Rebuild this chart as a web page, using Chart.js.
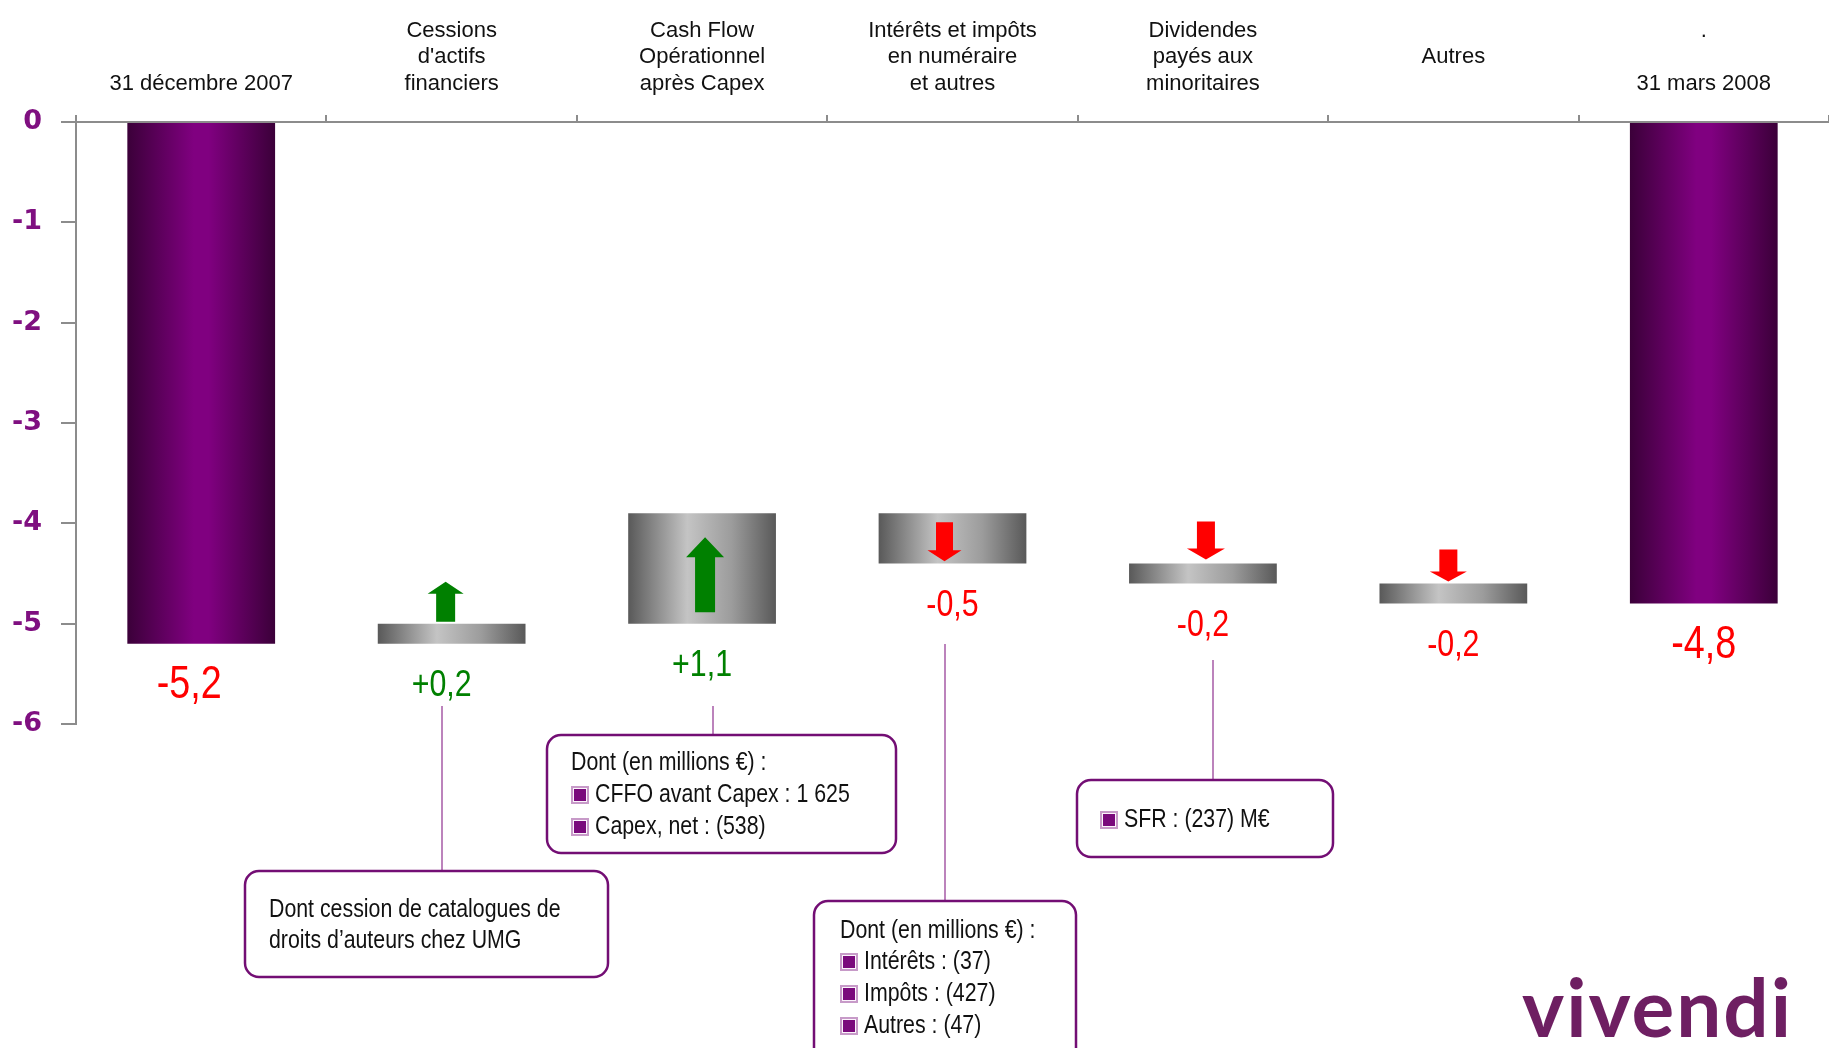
<!DOCTYPE html>
<html>
<head>
<meta charset="utf-8">
<script src="https://cdn.jsdelivr.net/npm/chart.js@4.4.0/dist/chart.umd.min.js"></script>
<style>
  html, body { margin: 0; padding: 0; background: #fff; }
  #wrap { width: 1829px; height: 1048px; }
</style>
</head>
<body>
<div id="wrap"><canvas id="chart" width="1829" height="1048"></canvas></div>
<script>
// categories (multi-line labels shown above the chart)
const categories = [
  ['31 décembre 2007'],
  ['Cessions', "d'actifs", 'financiers'],
  ['Cash Flow', 'Opérationnel', 'après Capex'],
  ['Intérêts et impôts', 'en numéraire', 'et autres'],
  ['Dividendes', 'payés aux', 'minoritaires'],
  ['Autres', ''],
  ['.', '', '31 mars 2008']
];
// floating bars: start / end of each step (Md€)
const barStart = [0, -5.2, -5.0, -3.9, -4.4, -4.6, 0];
const barEnd = [-5.2, -5.0, -3.9, -4.4, -4.6, -4.8, -4.8];
const barKind = ['total', 'up', 'up', 'down', 'down', 'down', 'total'];
const valueLabels = ['-5,2', '+0,2', '+1,1', '-0,5', '-0,2', '-0,2', '-4,8'];

// callout texts
const noteUMG = ['Dont cession de catalogues de', 'droits d\u2019auteurs chez UMG'];
const noteCFFOHead = 'Dont (en millions \u20ac) :';
const noteCFFOItems = ['CFFO avant Capex : 1 625', 'Capex, net : (538)'];
const noteIntHead = 'Dont (en millions \u20ac) :';
const noteIntItems = ['Intérêts : (37)', 'Impôts : (427)', 'Autres : (47)'];
const noteSFRItems = ['SFR : (237) M\u20ac'];
const logoText = 'vivendi';

const SANS = '"Liberation Sans", Arial, sans-serif';
const BAR_PCT = 0.59;

function barFill(ctx) {
  if (ctx.type !== 'data') return '#888';
  const chart = ctx.chart;
  const xs = chart.scales.x;
  if (!xs || !chart.chartArea) return '#888';
  const cx = xs.getPixelForValue(ctx.dataIndex);
  const w = xs.width / categories.length * BAR_PCT;
  const g = chart.ctx.createLinearGradient(cx - w / 2, 0, cx + w / 2, 0);
  if (barKind[ctx.dataIndex] === 'total') {
    g.addColorStop(0, '#3b0039');
    g.addColorStop(0.45, '#800080');
    g.addColorStop(0.55, '#800080');
    g.addColorStop(1, '#3b0039');
  } else {
    g.addColorStop(0, '#595959');
    g.addColorStop(0.4, '#c4c4c4');
    g.addColorStop(0.7, '#9c9c9c');
    g.addColorStop(1, '#595959');
  }
  return g;
}

// condensed text: Liberation Sans squeezed horizontally (Arial Narrow look)
function narrowText(c, text, x, y, size, color, align) {
  c.save();
  c.translate(x, y);
  c.scale(0.82, 1);
  c.font = size + 'px ' + SANS;
  c.fillStyle = color;
  c.textAlign = align || 'left';
  c.textBaseline = 'middle';
  c.fillText(text, 0, 0);
  c.restore();
}

function drawArrow(c, cx, yTail, yTip, shaftW, headW, headH, color) {
  const dir = yTip < yTail ? -1 : 1;
  const yBase = yTip - dir * headH;
  c.beginPath();
  c.moveTo(cx - shaftW / 2, yTail);
  c.lineTo(cx - shaftW / 2, yBase);
  c.lineTo(cx - headW / 2, yBase);
  c.lineTo(cx, yTip);
  c.lineTo(cx + headW / 2, yBase);
  c.lineTo(cx + shaftW / 2, yBase);
  c.lineTo(cx + shaftW / 2, yTail);
  c.closePath();
  c.fillStyle = color;
  c.fill();
}

function roundBox(c, x, y, w, h, r) {
  c.beginPath();
  c.moveTo(x + r, y);
  c.arcTo(x + w, y, x + w, y + h, r);
  c.arcTo(x + w, y + h, x, y + h, r);
  c.arcTo(x, y + h, x, y, r);
  c.arcTo(x, y, x + w, y, r);
  c.closePath();
  c.fillStyle = '#fff';
  c.fill();
  c.lineWidth = 2.5;
  c.strokeStyle = '#730e74';
  c.stroke();
}

function bullet(c, x, yMid) {
  c.fillStyle = '#c79ac8';
  c.fillRect(x, yMid - 9, 18, 18);
  c.fillStyle = '#fbf4fb';
  c.fillRect(x + 2, yMid - 7, 14, 14);
  c.fillStyle = '#7a0a7c';
  c.fillRect(x + 3, yMid - 6, 12, 12);
}

// arrows placed relative to the bar top (pixels)
const arrowSpec = {
  1: { dx: -6, tail: -2, tip: -42, shaft: 19, head: 36, headH: 12 },
  2: { dx: 3, tail: 99, tip: 24, shaft: 20, head: 38, headH: 20 },
  3: { dx: -8, tail: 9, tip: 48, shaft: 17, head: 34, headH: 11 },
  4: { dx: 3, tail: -42, tip: -4, shaft: 18, head: 38, headH: 11 },
  5: { dx: -5, tail: -34, tip: -2, shaft: 18, head: 37, headH: 10 }
};

const decor = {
  id: 'decor',
  afterDatasetsDraw(chart) {
    const c = chart.ctx;
    const meta = chart.getDatasetMeta(0);
    c.save();
    meta.data.forEach((bar, i) => {
      const p = bar.getProps(['x', 'y', 'base'], true);
      const top = Math.min(p.y, p.base);
      const bottom = Math.max(p.y, p.base);
      const a = arrowSpec[i];
      if (a) {
        drawArrow(c, p.x + a.dx, top + a.tail, top + a.tip, a.shaft, a.head, a.headH,
          barKind[i] === 'up' ? '#008000' : '#ff0000');
      }
      const big = barKind[i] === 'total';
      narrowText(c, valueLabels[i], p.x + (i === 0 ? -12 : i === 1 ? -10 : 0), bottom + 42,
        big ? 46 : 37, barKind[i] === 'up' ? '#008000' : '#ff0000', 'center');
    });

    // connectors
    c.strokeStyle = '#a65aa6';
    c.lineWidth = 1.5;
    [[442, 706, 871], [713, 706, 735], [945, 644, 901], [1213, 660, 780]].forEach(l => {
      c.beginPath();
      c.moveTo(l[0], l[1]);
      c.lineTo(l[0], l[2]);
      c.stroke();
    });

    const fs = 26, ink = '#111';

    // UMG
    roundBox(c, 245, 871, 363, 106, 14);
    noteUMG.forEach((t, k) => narrowText(c, t, 269, 910 + k * 31, fs, ink));

    // CFFO
    roundBox(c, 547, 735, 349, 118, 14);
    narrowText(c, noteCFFOHead, 571, 763, fs, ink);
    noteCFFOItems.forEach((t, k) => {
      const y = 795 + k * 32;
      bullet(c, 571, y);
      narrowText(c, t, 595, y, fs, ink);
    });

    // Intérêts
    roundBox(c, 814, 901, 262, 170, 14);
    narrowText(c, noteIntHead, 840, 931, fs, ink);
    noteIntItems.forEach((t, k) => {
      const y = 962 + k * 32;
      bullet(c, 840, y);
      narrowText(c, t, 864, y, fs, ink);
    });

    // SFR
    roundBox(c, 1077, 780, 256, 77, 14);
    noteSFRItems.forEach(t => {
      bullet(c, 1100, 820);
      narrowText(c, t, 1124, 820, fs, ink);
    });

    // logo
    c.font = 'bold 80px Lato, "DejaVu Sans", sans-serif';
    c.fillStyle = '#6e1f62';
    c.textAlign = 'left';
    c.textBaseline = 'alphabetic';
    if ('letterSpacing' in c) c.letterSpacing = '2px';
    c.fillText(logoText, 1522, 1037);
    c.restore();
  }
};

new Chart(document.getElementById('chart'), {
  type: 'bar',
  data: {
    labels: categories,
    datasets: [{
      data: barStart.map((s, i) => [s, barEnd[i]]),
      backgroundColor: barFill,
      borderWidth: 0,
      barPercentage: BAR_PCT,
      categoryPercentage: 1
    }]
  },
  options: {
    responsive: false,
    animation: false,
    layout: { padding: { top: 0, right: 0, bottom: 324, left: 0 } },
    plugins: { legend: { display: false }, tooltip: { enabled: false } },
    scales: {
      x: {
        position: 'top',
        offset: true,
        grid: { display: true, drawOnChartArea: false, offset: true, tickLength: 7, color: '#8c8c8c', lineWidth: 2 },
        border: { color: '#8c8c8c', width: 2 },
        ticks: {
          color: '#111',
          font: { family: SANS, size: 22, lineHeight: 1.2 },
          padding: 18,
          maxRotation: 0,
          autoSkip: false
        },
        afterFit(s) { s.height = 122; }
      },
      y: {
        min: -6,
        max: 0,
        grid: { display: true, drawOnChartArea: false, tickLength: 15, color: '#8c8c8c', lineWidth: 2 },
        border: { color: '#8c8c8c', width: 2 },
        ticks: {
          stepSize: 1,
          color: '#7f0f80',
          padding: 19,
          font: { family: '"DejaVu Sans", sans-serif', size: 27, weight: 'bold' },
          callback: v => String(v)
        },
        afterFit(s) { s.width = 76; }
      }
    }
  },
  plugins: [decor]
});
</script>
</body>
</html>
